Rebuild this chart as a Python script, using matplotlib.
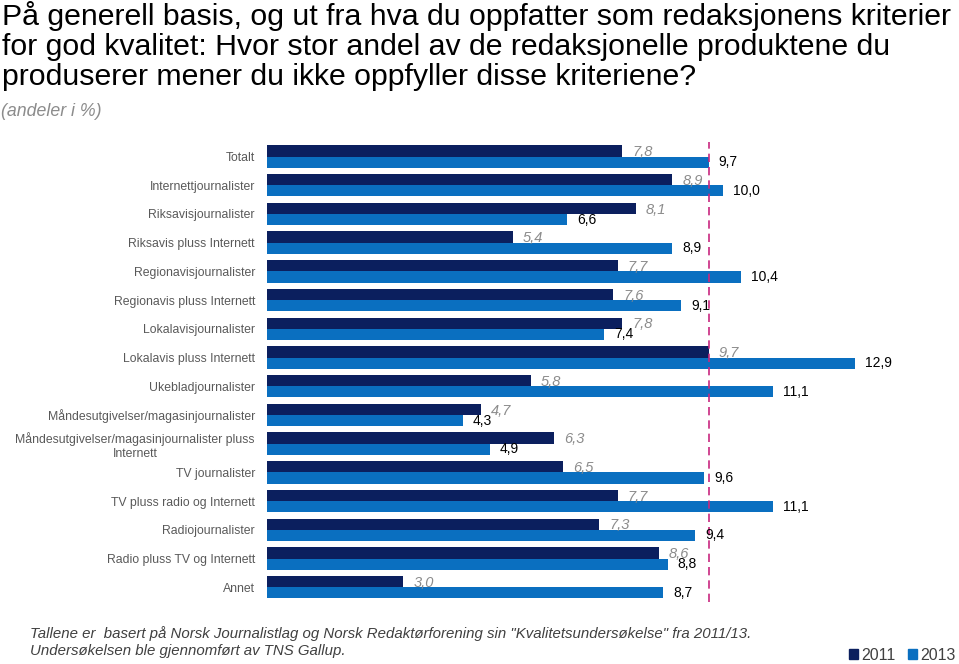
import matplotlib
matplotlib.use("Agg")
import matplotlib.pyplot as plt
from matplotlib.patches import Patch

plt.rcParams['font.family'] = ['Liberation Sans', 'DejaVu Sans']

# kategorier og verdier (andeler i %)
categories = ['Totalt', 'Internettjournalister', 'Riksavisjournalister',
              'Riksavis pluss Internett', 'Regionavisjournalister',
              'Regionavis pluss Internett', 'Lokalavisjournalister',
              'Lokalavis pluss Internett', 'Ukebladjournalister',
              'Måndesutgivelser/magasinjournalister',
              'Måndesutgivelser/magasinjournalister pluss\nInternett',
              'TV journalister', 'TV pluss radio og Internett',
              'Radiojournalister', 'Radio pluss TV og Internett', 'Annet']
values_2011 = [7.8, 8.9, 8.1, 5.4, 7.7, 7.6, 7.8, 9.7, 5.8, 4.7, 6.3, 6.5, 7.7, 7.3, 8.6, 3.0]
values_2013 = [9.7, 10.0, 6.6, 8.9, 10.4, 9.1, 7.4, 12.9, 11.1, 4.3, 4.9, 9.6, 11.1, 9.4, 8.8, 8.7]
years = ['2011', '2013']

title_lines = ['På generell basis, og ut fra hva du oppfatter som redaksjonens kriterier',
               'for god kvalitet: Hvor stor andel av de redaksjonelle produktene du',
               'produserer mener du ikke oppfyller disse kriteriene?']

dark = '#0b1f5e'
light = '#0a6fc0'

fig = plt.figure(figsize=(9.59, 6.64), dpi=100)
ax = fig.add_axes([266.5 / 959, 0.0896, 692.5 / 959, 0.7006])

n = len(categories)
pos = list(range(n))
h = 0.39
ax.barh([p - h / 2 for p in pos], values_2011, height=h, color=dark)
ax.barh([p + h / 2 for p in pos], values_2013, height=h, color=light)

# verdietiketter
for p, v1, v2 in zip(pos, values_2011, values_2013):
    ax.text(v1 + 0.22, p - h / 2 + 0.04, f'{v1:.1f}'.replace('.', ','),
            va='center', ha='left', fontsize=10.5, color='#8c8c8c', style='italic')
    ax.text(v2 + 0.22, p + h / 2, f'{v2:.1f}'.replace('.', ','),
            va='center', ha='left', fontsize=10, color='black')

# stiplet linje ved totalen for 2013
ax.axvline(values_2013[0], ymin=0.005, ymax=0.995, color='#c8287f', lw=1.2, ls=(0, (5, 3)))

ax.set_xlim(0, 692.5 / 45.6)
ax.set_ylim(n - 0.4, -0.6)
ax.set_yticks(pos)
ax.set_yticklabels(categories, fontsize=8.8, color='#595959')
for lab in ax.get_yticklabels():
    lab.set_multialignment('center')
ax.tick_params(axis='y', length=0, pad=8.3)
ax.set_xticks([])
for s in ax.spines.values():
    s.set_visible(False)

# tittel, en linje om gangen
for i, line in enumerate(title_lines):
    fig.text(2 / 959, 1 - (25 + 30 * i) / 664, line, ha='left', va='baseline',
             fontsize=21.8, color='black')
fig.text(1 / 959, 1 - 111 / 664, '(andeler i %)', ha='left', va='center',
         fontsize=12.8, color='#8c8c8c', style='italic')

fig.text(30 / 959, 1 - 642 / 664,
         'Tallene er  basert på Norsk Journalistlag og Norsk Redaktørforening sin "Kvalitetsundersøkelse" fra 2011/13.\n'
         'Undersøkelsen ble gjennomført av TNS Gallup.',
         ha='left', va='center', fontsize=10.85, color='#404040', style='italic', linespacing=1.25)

handles = [Patch(color=dark), Patch(color=light)]
fig.legend(handles, years, loc='lower right', bbox_to_anchor=(1.0115, -0.02), ncol=2,
           frameon=False, handlelength=0.55, handleheight=0.55, handletextpad=0.2,
           columnspacing=0.8, fontsize=11.5, labelcolor='#404040')

fig.savefig('out.png', dpi=100)
